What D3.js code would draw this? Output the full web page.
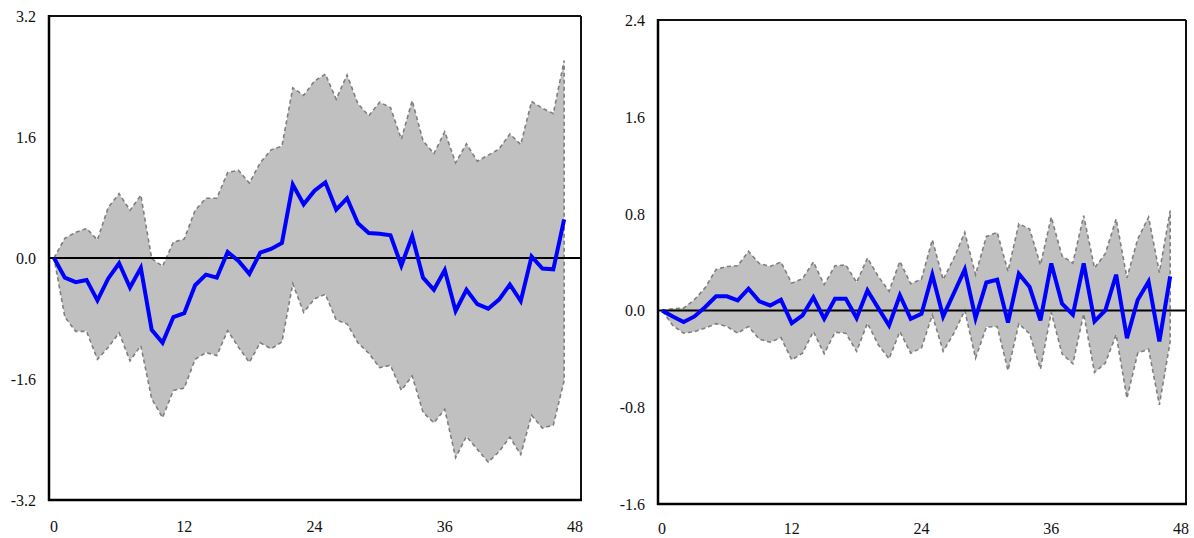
<!DOCTYPE html>
<html>
<head>
<meta charset="utf-8">
<script src="https://cdn.jsdelivr.net/npm/d3@7"></script>
<style>
  body { margin: 0; background: #fff; }
</style>
</head>
<body>
<svg id="chart"></svg>
<script>
// horizon 0..47
const steps = d3.range(48);
const xTicks = [0, 12, 24, 36, 48];

// left panel
const leftMid = [0, -0.26, -0.32, -0.29, -0.56, -0.27, -0.07, -0.39, -0.13, -0.95, -1.12, -0.78, -0.73, -0.36, -0.22, -0.26,
  0.08, -0.04, -0.21, 0.07, 0.12, 0.20, 0.97, 0.71, 0.89, 1.00, 0.64, 0.79, 0.46, 0.33, 0.32, 0.30,
  -0.10, 0.29, -0.26, -0.42, -0.16, -0.70, -0.42, -0.61, -0.67, -0.55, -0.35, -0.57, 0.02, -0.14, -0.15, 0.51];
const leftUpper = [0, 0.26, 0.34, 0.39, 0.24, 0.67, 0.85, 0.63, 0.83, -0.01, -0.11, 0.21, 0.25, 0.63, 0.79, 0.79,
  1.13, 1.16, 0.99, 1.26, 1.43, 1.48, 2.25, 2.15, 2.34, 2.43, 2.10, 2.42, 2.04, 1.88, 2.06, 1.99,
  1.57, 2.08, 1.55, 1.38, 1.67, 1.26, 1.51, 1.28, 1.36, 1.44, 1.64, 1.50, 2.07, 1.98, 1.91, 2.61];
const leftLower = [0, -0.78, -0.97, -0.97, -1.34, -1.18, -0.99, -1.36, -1.16, -1.86, -2.11, -1.75, -1.72, -1.34, -1.25, -1.29,
  -0.96, -1.18, -1.38, -1.12, -1.20, -1.11, -0.34, -0.72, -0.54, -0.48, -0.82, -0.87, -1.12, -1.26, -1.45, -1.42,
  -1.75, -1.56, -2.04, -2.18, -2.00, -2.64, -2.36, -2.53, -2.70, -2.56, -2.37, -2.60, -2.08, -2.25, -2.21, -1.62];
const leftYTicks = [-3.2, -1.6, 0, 1.6, 3.2];

// right panel
const rightMid = [0, -0.05, -0.096, -0.05, 0.028, 0.116, 0.116, 0.083, 0.179, 0.075, 0.041, 0.088, -0.105, -0.041, 0.108, -0.069,
  0.096, 0.096, -0.063, 0.165, 0.019, -0.125, 0.125, -0.069, -0.028, 0.295, -0.05, 0.144, 0.338, -0.063, 0.231, 0.254,
  -0.10, 0.303, 0.193, -0.083, 0.388, 0.055, -0.036, 0.388, -0.091, 0.0, 0.295, -0.229, 0.088, 0.238, -0.256, 0.281];
const rightUpper = [0, 0.013, 0.019, 0.088, 0.188, 0.338, 0.363, 0.369, 0.488, 0.388, 0.363, 0.40, 0.225, 0.263, 0.40, 0.213,
  0.369, 0.375, 0.231, 0.433, 0.281, 0.158, 0.405, 0.22, 0.259, 0.584, 0.254, 0.433, 0.645, 0.295, 0.611, 0.645,
  0.323, 0.716, 0.673, 0.375, 0.771, 0.45, 0.391, 0.783, 0.35, 0.469, 0.755, 0.268, 0.59, 0.771, 0.313, 0.825];
const rightLower = [0, -0.125, -0.188, -0.175, -0.146, -0.11, -0.133, -0.188, -0.133, -0.238, -0.263, -0.225, -0.408, -0.353, -0.175, -0.358,
  -0.181, -0.188, -0.338, -0.105, -0.284, -0.40, -0.175, -0.353, -0.31, -0.038, -0.338, -0.188, 0.0, -0.394, -0.138, -0.133,
  -0.496, -0.11, -0.193, -0.485, -0.016, -0.359, -0.441, -0.028, -0.513, -0.435, -0.20, -0.725, -0.353, -0.32, -0.78, -0.256];
const rightYTicks = [-1.6, -0.8, 0, 0.8, 1.6, 2.4];

const svg = d3.select('#chart').attr('width', 1194).attr('height', 538);
const fmt = d => d.toFixed(1);

function drawPanel(p) {
  const x = d3.scaleLinear().domain([0, 48]).range([p.x0, p.x1]);
  const y = d3.scaleLinear().domain(p.yDomain).range([p.bottom, p.top]);
  const g = svg.append('g');

  // confidence band
  const area = d3.area().x((d, i) => x(i)).y0((d, i) => y(p.lower[i])).y1((d, i) => y(p.upper[i]));
  g.append('path').datum(steps).attr('d', area).attr('fill', '#c0c0c0');
  const edge = d3.line().x(d => x(d[0])).y(d => y(d[1]));
  const outline = steps.map(i => [i, p.upper[i]])
    .concat(steps.slice().reverse().map(i => [i, p.lower[i]]));
  g.append('path').datum(outline).attr('d', edge)
    .attr('fill', 'none').attr('stroke', '#7f7f7f').attr('stroke-width', 1.6)
    .attr('stroke-dasharray', '4,3');

  // zero line
  g.append('line').attr('x1', p.left).attr('x2', p.right).attr('y1', y(0)).attr('y2', y(0))
    .attr('stroke', '#000').attr('stroke-width', 2);

  // response
  g.append('path').datum(steps)
    .attr('d', d3.line().x(i => x(i)).y(i => y(p.mid[i])))
    .attr('fill', 'none').attr('stroke', '#0000ff').attr('stroke-width', 4)
    .attr('stroke-linejoin', 'miter');

  // frame
  g.append('line').attr('x1', p.left).attr('x2', p.right).attr('y1', p.top).attr('y2', p.top)
    .attr('stroke', '#111').attr('stroke-width', 2);
  g.append('line').attr('x1', p.right).attr('x2', p.right).attr('y1', p.top).attr('y2', p.bottom)
    .attr('stroke', '#111').attr('stroke-width', 2);
  g.append('line').attr('x1', p.left).attr('x2', p.left).attr('y1', p.top - 1).attr('y2', p.bottom + 1)
    .attr('stroke', '#000').attr('stroke-width', 2.5);
  g.append('line').attr('x1', p.left - 1).attr('x2', p.right + 1).attr('y1', p.bottom).attr('y2', p.bottom)
    .attr('stroke', '#000').attr('stroke-width', 2.5);

  // tick labels
  g.selectAll('text.yt').data(p.yTicks).enter().append('text')
    .attr('x', p.left - 13).attr('y', d => y(d) + 6)
    .attr('text-anchor', 'end')
    .attr('font-family', 'Liberation Serif, serif').attr('font-size', 16).attr('fill', '#111')
    .text(fmt);
  g.selectAll('text.xt').data(xTicks).enter().append('text')
    .attr('x', d => x(d)).attr('y', p.bottom + p.xLabelGap)
    .attr('text-anchor', 'middle')
    .attr('font-family', 'Liberation Serif, serif').attr('font-size', 16).attr('fill', '#111')
    .text(d => d);
}

drawPanel({ left: 49, right: 581, top: 16, bottom: 500, x0: 54, x1: 575, xLabelGap: 32,
  yDomain: [-3.2, 3.2], yTicks: leftYTicks, mid: leftMid, upper: leftUpper, lower: leftLower });
drawPanel({ left: 658, right: 1186, top: 20, bottom: 504, x0: 662, x1: 1181, xLabelGap: 30,
  yDomain: [-1.6, 2.4], yTicks: rightYTicks, mid: rightMid, upper: rightUpper, lower: rightLower });
</script>
</body>
</html>
